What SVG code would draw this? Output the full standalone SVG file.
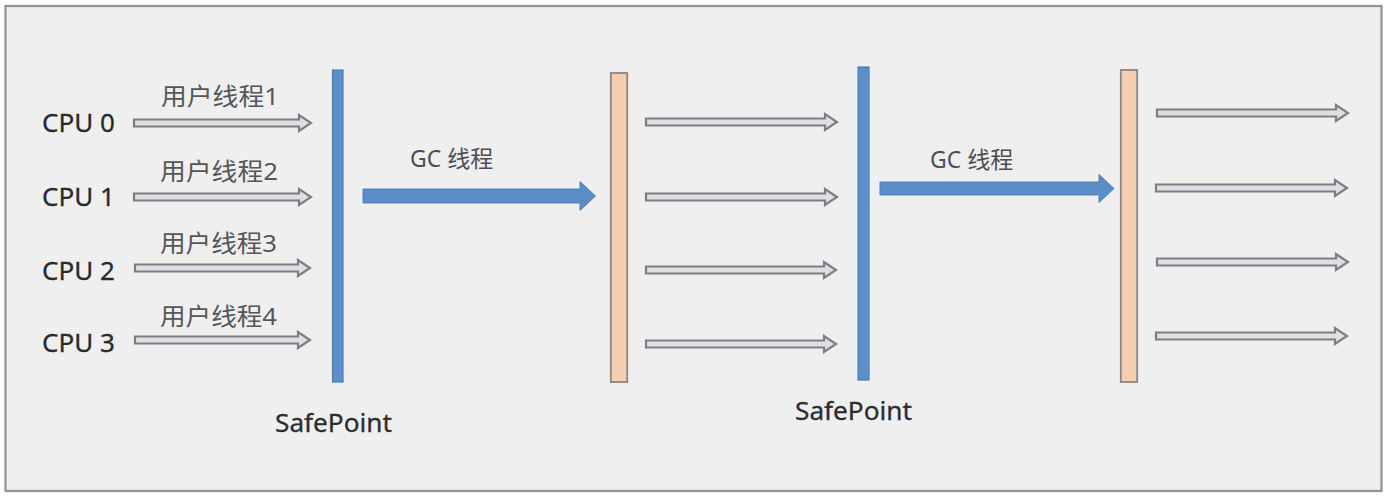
<svg xmlns="http://www.w3.org/2000/svg" width="1388" height="498" viewBox="0 0 1388 498">
<style>
  .txt { font-family: "Noto Sans", "Noto Sans CJK SC", sans-serif; }
  .cpu { font-size: 26px; fill: #2a2a2e; stroke: #2a2a2e; stroke-width: 0.3; }
  .lbl { font-size: 24px; fill: #55565a; }
  .gc { font-size: 23px; fill: #4d4e53; }
  .sp { font-size: 25px; fill: #2c2d31; stroke: #2c2d31; stroke-width: 0.3; }
  .hollow { fill: #e3dde1; stroke: #7d7e85; stroke-width: 2.2; stroke-linejoin: miter; }
  .solid { fill: #5a8dc8; stroke: #4f82bb; stroke-width: 1; }
  .bluebar { fill: #5b8fcb; stroke: #4a7db5; stroke-width: 1.2; }
  .pinkbar { fill: #f5cdb1; stroke: #8c8686; stroke-width: 1.8; }
</style>
<rect x="0" y="0" width="1388" height="498" fill="#ffffff"/>
<rect id="frame" x="5.5" y="6" width="1376" height="485" fill="#efeff0" stroke="#8d9399" stroke-width="2.2"/>

<g id="cpu0"><text class="txt cpu" x="42" y="132">CPU 0</text></g>
<g id="cpu1"><text class="txt cpu" x="42" y="206">CPU 1</text></g>
<g id="cpu2"><text class="txt cpu" x="42" y="280">CPU 2</text></g>
<g id="cpu3"><text class="txt cpu" x="42" y="352">CPU 3</text></g>

<g id="safepoint1">
  <rect class="bluebar" x="332.5" y="70" width="10.5" height="312"/>
  <text class="txt sp" x="275" y="432" textLength="117" lengthAdjust="spacingAndGlyphs">SafePoint</text>
</g>
<g id="gc-stage1">
  <rect class="pinkbar" x="610.8" y="73" width="16.4" height="309"/>
</g>
<g id="safepoint2">
  <rect class="bluebar" x="858" y="67" width="11" height="313"/>
  <text class="txt sp" x="795" y="420" textLength="117" lengthAdjust="spacingAndGlyphs">SafePoint</text>
</g>
<g id="gc-stage2">
  <rect class="pinkbar" x="1120.8" y="70" width="16.4" height="312"/>
</g>

<g id="connectors">
  <!-- user threads -->
  <path class="hollow" d="M134,119.5 H299 V115 L311,123 L299,131 V126.5 H134 Z"/>
  <path class="hollow" d="M134,193.5 H299 V189 L311,197 L299,205 V200.5 H134 Z"/>
  <path class="hollow" d="M135,264.5 H298 V260 L310,268 L298,276 V271.5 H135 Z"/>
  <path class="hollow" d="M135,336.5 H298 V332 L310,340 L298,348 V343.5 H135 Z"/>
  <text class="txt lbl" x="161" y="105" textLength="118" lengthAdjust="spacingAndGlyphs">用户线程1</text>
  <text class="txt lbl" x="160" y="180" textLength="118" lengthAdjust="spacingAndGlyphs">用户线程2</text>
  <text class="txt lbl" x="160" y="252" textLength="117" lengthAdjust="spacingAndGlyphs">用户线程3</text>
  <text class="txt lbl" x="160" y="325" textLength="117" lengthAdjust="spacingAndGlyphs">用户线程4</text>

  <!-- GC thread 1 -->
  <path class="solid" d="M363,189 H580 V181.5 L595.5,196 L580,210.5 V203 H363 Z"/>
  <text class="txt gc" x="410" y="167">GC 线程</text>

  <!-- resumed threads 1 -->
  <path class="hollow" d="M646,118.5 H825 V114 L837,122 L825,130 V125.5 H646 Z"/>
  <path class="hollow" d="M646,193.5 H825 V189 L837,197 L825,205 V200.5 H646 Z"/>
  <path class="hollow" d="M646,266.5 H824 V262 L836,270 L824,278 V273.5 H646 Z"/>
  <path class="hollow" d="M646,340.5 H824 V336 L836,344 L824,352 V347.5 H646 Z"/>

  <!-- GC thread 2 -->
  <path class="solid" d="M880,182 H1099 V174.5 L1114,188.5 L1099,202.5 V195 H880 Z"/>
  <text class="txt gc" x="930" y="168">GC 线程</text>

  <!-- resumed threads 2 -->
  <path class="hollow" d="M1157,109.5 H1336 V105 L1348,113 L1336,121 V116.5 H1157 Z"/>
  <path class="hollow" d="M1156,184.5 H1335 V180 L1347,188 L1335,196 V191.5 H1156 Z"/>
  <path class="hollow" d="M1157,258.5 H1336 V254 L1348,262 L1336,270 V265.5 H1157 Z"/>
  <path class="hollow" d="M1156,332.5 H1335 V328 L1347,336 L1335,344 V339.5 H1156 Z"/>
</g>
</svg>
